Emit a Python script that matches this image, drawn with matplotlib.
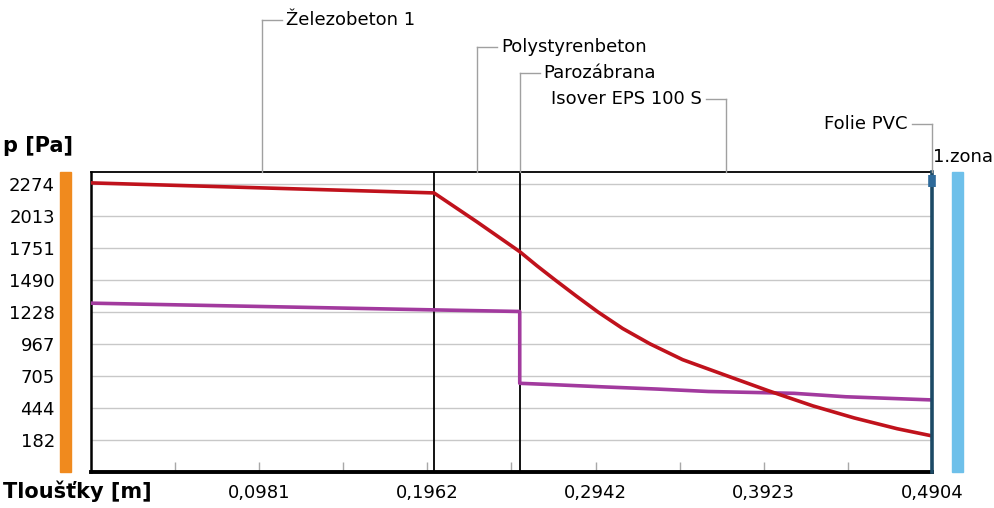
import matplotlib
matplotlib.use("Agg")
import matplotlib.pyplot as plt
from matplotlib.lines import Line2D
from matplotlib.patches import Rectangle

# layer boundaries [m]
layer_bounds = [0.0, 0.2, 0.25, 0.4904]
layer_names = ["Železobeton 1", "Polystyrenbeton", "Parozábrana", "Isover EPS 100 S", "Folie PVC"]
total = 0.4904

# saturated vapour pressure (red)
red_x = [0.0, 0.2, 0.225, 0.25, 0.26, 0.2706, 0.283, 0.2956, 0.31, 0.326, 0.345,
         0.3709, 0.395, 0.421, 0.445, 0.47, 0.4904]
red_y = [2283, 2201, 1965, 1721, 1606, 1490, 1358, 1228, 1093, 967, 838,
         706, 584, 460, 362, 274, 215]

# partial vapour pressure (purple)
pur_x = [0.0, 0.2, 0.25, 0.25, 0.2676, 0.30, 0.33, 0.36, 0.41, 0.44, 0.4904]
pur_y = [1300, 1245, 1232, 645, 635, 615, 598, 578, 563, 535, 509]

y_ticks = [182, 444, 705, 967, 1228, 1490, 1751, 2013, 2274]
x_ticks = [0.0981, 0.1962, 0.2942, 0.3923, 0.4904]
x_labels = ["0,0981", "0,1962", "0,2942", "0,3923", "0,4904"]
x_minor = [0.0490, 0.1471, 0.2452, 0.3433, 0.4413]

W, H = 995, 508
plt.rcParams['font.family'] = ['DejaVu Sans']
fig = plt.figure(figsize=(W / 100, H / 100), dpi=100)
ax = fig.add_axes([91 / W, 36 / H, 841 / W, 300 / H])

ax.set_xlim(0, total)
ax.set_ylim(-80, 2372)

ax.set_yticks(y_ticks)
ax.set_yticklabels([str(v) for v in y_ticks], fontsize=13)
ax.tick_params(axis='y', length=0, pad=26)
ax.yaxis.grid(True, color='#c8c8c8', lw=1)
ax.set_axisbelow(True)

ax.set_xticks(x_ticks)
ax.set_xticklabels(x_labels, fontsize=13)
ax.set_xticks(x_minor, minor=True)
ax.tick_params(axis='x', which='both', direction='in', length=7, width=1,
               color='#a8a8a8', pad=9)

for s in ['top', 'left', 'bottom', 'right']:
    ax.spines[s].set_color('black')
ax.spines['top'].set_linewidth(1.3)
ax.spines['left'].set_linewidth(1.8)
ax.spines['bottom'].set_linewidth(2.8)
ax.spines['right'].set_visible(False)

# layer boundaries
for b in layer_bounds[1:3]:
    ax.axvline(b, color='black', lw=1.3, zorder=3)

ax.plot(pur_x, pur_y, color='#a23a9e', lw=2.6, zorder=4)
ax.plot(red_x, red_y, color='#c0121c', lw=2.6, zorder=5, solid_joinstyle='round')

# foil at the end
ax.axvline(total, color='#1c4a66', lw=2.6, zorder=6, clip_on=False)
ax.plot([total, total], [0.95, 0.99], transform=ax.get_xaxis_transform(),
        color='#2e6a9a', lw=5.5, solid_capstyle='butt', zorder=7, clip_on=False)

# side bars
fig.add_artist(Rectangle((60 / W, 36 / H), 11 / W, 300 / H, color='#f08a1e'))
fig.add_artist(Rectangle((952 / W, 36 / H), 11 / W, 300 / H, color='#6ec0ea'))

fig.text(3 / W, 1 - 146 / H, "p [Pa]", fontsize=15, fontweight='bold', va='center', ha='left')
fig.text(3 / W, 1 - 491 / H, "Tloušťky [m]", fontsize=15, fontweight='bold', va='center', ha='left')
fig.text(933 / W, 1 - 157 / H, "1.zona", fontsize=13, va='center', ha='left')

# layer labels with leader lines
def px(xd):
    return ax.transData.transform((xd, 0))[0]

centers = [
    (layer_bounds[0] + layer_bounds[1]) / 2,
    (layer_bounds[1] + layer_bounds[2]) / 2,
    layer_bounds[2],
    (layer_bounds[2] + layer_bounds[3]) / 2,
    total,
]
label_y = [20, 47, 73, 99, 124]
side = [1, 1, 1, -1, -1]
top_y = 172
grey = '#a0a0a0'
for name, c, ly, sd in zip(layer_names, centers, label_y, side):
    xp = px(c)
    fig.add_artist(Line2D([xp / W, xp / W], [1 - top_y / H, 1 - ly / H], color=grey, lw=1))
    x2 = xp + sd * 20
    fig.add_artist(Line2D([xp / W, x2 / W], [1 - ly / H, 1 - ly / H], color=grey, lw=1))
    if sd > 0:
        fig.text((x2 + 4) / W, 1 - ly / H, name, fontsize=13, va='center', ha='left')
    else:
        fig.text((x2 - 4) / W, 1 - ly / H, name, fontsize=13, va='center', ha='right')

fig.savefig("out.png", dpi=100)
